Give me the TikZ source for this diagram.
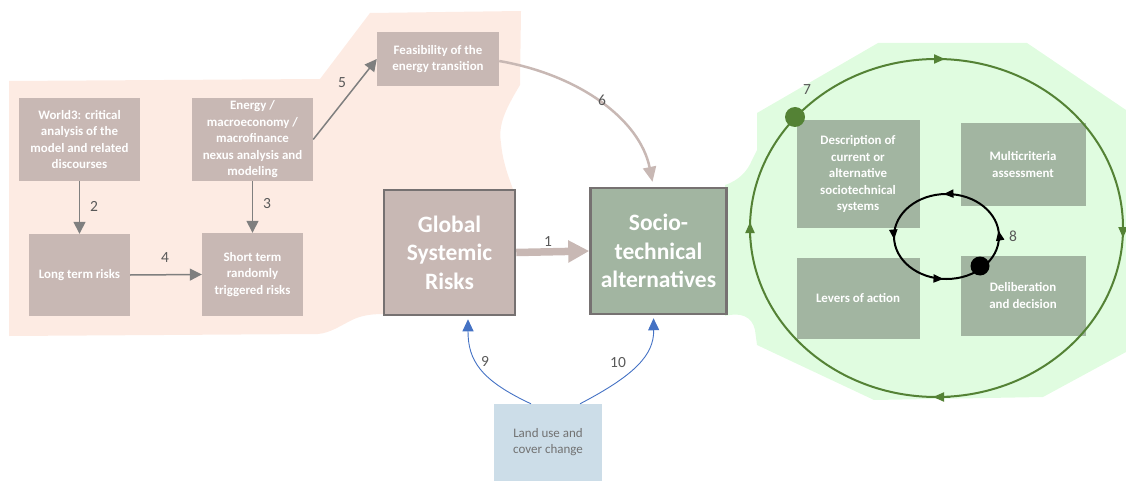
\documentclass[tikz,border=0pt]{standalone}
\usepackage{fontspec}
\setmainfont{Carlito}
\usetikzlibrary{arrows.meta,decorations.markings}
\definecolor{peach}{HTML}{FDEBE3}
\definecolor{lgreen}{HTML}{E0FCE0}
\definecolor{brownfill}{HTML}{C8B8B4}
\definecolor{greenfill}{HTML}{A2B5A1}
\definecolor{dgreen}{HTML}{548235}
\definecolor{agrey}{HTML}{7F7F7F}
\definecolor{bordergrey}{HTML}{767171}
\definecolor{lblue}{HTML}{CCDDE8}
\definecolor{ablue}{HTML}{4472C4}
\definecolor{numgrey}{HTML}{595959}
\begin{document}
\begin{tikzpicture}[x=1pt,y=-1pt,
  smallbox/.style={inner sep=0pt, align=center, text=white,
    font=\bfseries\fontsize{12.9}{16.5}\selectfont},
  brownbox/.style={smallbox, fill=brownfill},
  greenbox/.style={smallbox, fill=greenfill},
  bigbox/.style={inner sep=0pt, align=center, text=white, draw=bordergrey,
    line width=2.5pt, font=\bfseries\fontsize{23.5}{28.5}\selectfont},
  num/.style={text=numgrey, font=\fontsize{15.5}{16}\selectfont, inner sep=0pt},
  greyarrow/.style={draw=agrey, line width=1.5pt, -{Triangle[length=12pt,width=12pt]}},
  bluearrow/.style={draw=ablue, line width=0.9pt, -{Triangle[length=12pt,width=11pt]}},
  cyclehead/.style={draw=dgreen, line width=2pt, -{Triangle[length=11pt,width=9pt]}},
  loopmark/.style={decoration={markings,
    mark=at position 0.02 with {\arrow{Triangle[length=10pt,width=8pt]}},
    mark=at position 0.26 with {\arrow{Triangle[length=10pt,width=8pt]}},
    mark=at position 0.51 with {\arrow{Triangle[length=10pt,width=8pt]}},
    mark=at position 0.74 with {\arrow{Triangle[length=10pt,width=8pt]}}},
    postaction={decorate}}
]
\useasboundingbox (0,0) rectangle (1126,481);

% background regions
\fill[peach] (9,81) -- (320,79) -- (370,13) -- (521,11) -- (520,85)
  .. controls (505,110) and (498,125) .. (501,143)
  .. controls (503,165) and (510,180) .. (515,195)
  -- (515,312) -- (383,314) .. controls (370,314) and (360,316) .. (352,320)
  .. controls (340,326) and (330,333) .. (318,334) -- (9,336) -- cycle;
\fill[lgreen] (878,43) -- (1027,43) -- (1126,110) -- (1126,352) -- (1043,397)
  -- (874,400) -- (757,345) -- (755,330)
  .. controls (752,316) and (740,312) .. (725,316)
  -- (725,185) .. controls (740,180) and (748,170) .. (752,160)
  -- (757,150) -- (757,113) -- cycle;

% left boxes
\node[brownbox, minimum width=121pt, minimum height=83pt] (w3) at (79.5,139.5)
  {World3: critical\\analysis of the\\model and related\\discourses};
\node[brownbox, minimum width=121pt, minimum height=83pt] (en) at (252.5,139.5)
  {Energy /\\macroeconomy /\\macrofinance\\nexus analysis and\\modeling};
\node[brownbox, minimum width=122pt, minimum height=54pt] (feas) at (438,59)
  {Feasibility of the\\energy transition};
\node[brownbox, minimum width=101pt, minimum height=82pt] (lt) at (79.5,275)
  {Long term risks};
\node[brownbox, minimum width=101pt, minimum height=83pt] (st) at (252.5,274.5)
  {Short term\\randomly\\triggered risks};

% main boxes
\node[bigbox, fill=brownfill, minimum width=131pt, minimum height=125pt] (gsr) at (449.5,252.5)
  {Global\\Systemic\\Risks};
\node[bigbox, fill=greenfill, minimum width=136pt, minimum height=126pt] (soc) at (658.5,251)
  {Socio-\\technical\\alternatives};
\node[inner sep=0pt, fill=lblue, minimum width=108pt, minimum height=77pt, align=center,
  text=agrey!90!black, font=\fontsize{13}{16}\selectfont] (land) at (548,442.5)
  {Land use and\\cover change};

% right boxes
\node[greenbox, minimum width=123pt, minimum height=108pt] (desc) at (858,174)
  {Description of\\current or\\alternative\\sociotechnical\\systems};
\node[greenbox, minimum width=125pt, minimum height=83pt] (multi) at (1023,164.5)
  {Multicriteria\\assessment};
\node[greenbox, minimum width=123pt, minimum height=81pt] (lev) at (858,298)
  {Levers of action};
\node[greenbox, minimum width=125pt, minimum height=80pt] (delib) at (1023,295.5)
  {Deliberation\\and decision};

% left arrows
\draw[greyarrow] (w3.south) -- (lt.north);
\draw[greyarrow] (en.south) -- (st.north);
\draw[greyarrow] (lt.east) -- (st.west);
\draw[greyarrow] (en.east) -- (feas.west);
\node[num] (n2) at (94,206) {2};
\node[num] (n3) at (267,204) {3};
\node[num] (n4) at (165,258) {4};
\node[num] (n5) at (342,83) {5};

% arrow 6
\draw[draw=brownfill, line width=2.5pt, -{Triangle[length=15pt,width=13pt]}, shorten >=5pt]
  ([yshift=-2pt]feas.east) .. controls (580,75) and (640,120) .. ([xshift=-5pt]soc.north);
\node[num] (n6) at (602,100) {6};

% arrow 1
\draw[draw=brownfill, line width=7.5pt, -{Triangle[length=21pt,width=21pt]}]
  (gsr.east) -- (soc.west);
\node[num] (n1) at (548,242) {1};

% blue arrows
\draw[bluearrow, shorten >=3pt] ([xshift=-17pt]land.north)
  .. controls (480,380) and (468,360) .. ([xshift=18.5pt]gsr.south);
\draw[bluearrow, shorten >=3pt] ([xshift=32pt]land.north)
  .. controls (635,375) and (654,355) .. ([xshift=-5pt]soc.south);
\node[num] (n9) at (485,361) {9};
\node[num] (n10) at (618,363) {10};

% green cycle
\draw[dgreen, line width=2pt] (936.5,228) ellipse [x radius=186.5, y radius=169];
\coordinate (ct1) at (928,59);  \coordinate (ct2) at (945,59);
\coordinate (cr1) at (1123,222); \coordinate (cr2) at (1123,238);
\coordinate (cb1) at (950,397); \coordinate (cb2) at (933,397);
\coordinate (cl1) at (750,238); \coordinate (cl2) at (750,222);
\draw[cyclehead] (ct1) -- (ct2);
\draw[cyclehead] (cr1) -- (cr2);
\draw[cyclehead] (cb1) -- (cb2);
\draw[cyclehead] (cl1) -- (cl2);

% inner loop (drawn with upward y so markings behave)
\begin{scope}[y=1pt]
  \draw[black, line width=2pt, loopmark] (946.5,-236.5) ellipse [x radius=52.5, y radius=42.5];
\end{scope}
\node[circle, fill=dgreen, minimum size=20pt, inner sep=0pt] (d7) at (795,117) {};
\node[num] (n7) at (807,90) {7};
\node[circle, fill=black, minimum size=19pt, inner sep=0pt] (d8) at (980,266) {};
\node[num] (n8) at (1013,236) {8};
\end{tikzpicture}
\end{document}
